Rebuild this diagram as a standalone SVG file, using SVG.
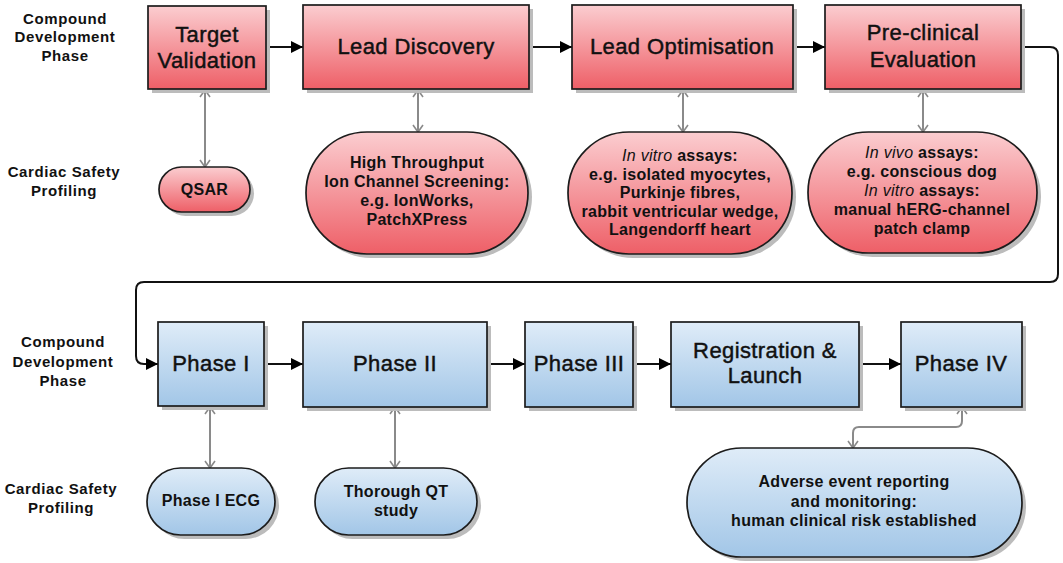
<svg xmlns="http://www.w3.org/2000/svg" width="1063" height="563" viewBox="0 0 1063 563">
<defs>
<linearGradient id="red" x1="0" y1="0" x2="0" y2="1">
<stop offset="0" stop-color="#fbcdd0"/>
<stop offset="1" stop-color="#ee5f67"/>
</linearGradient>
<linearGradient id="blue" x1="0" y1="0" x2="0" y2="1">
<stop offset="0" stop-color="#dfecf8"/>
<stop offset="1" stop-color="#a2c6e7"/>
</linearGradient>
<marker id="ah" markerUnits="userSpaceOnUse" viewBox="0 0 12 12" refX="12" refY="6" markerWidth="12" markerHeight="12" orient="auto">
<path d="M0,0 L12,6 L0,12 z" fill="#000"/>
</marker>
<marker id="gh" markerUnits="userSpaceOnUse" viewBox="-9 -7 11 14" refX="0" refY="0" markerWidth="11" markerHeight="14" orient="auto-start-reverse">
<path d="M-7,-5 L0,0 L-7,5" fill="none" stroke="#8a8a8a" stroke-width="1.6"/>
</marker>
<style>
.shadow{fill:#bcbcbc}
.rbox{fill:url(#red);stroke:#1c1c1c;stroke-width:1.7}
.bbox{fill:url(#blue);stroke:#1c1c1c;stroke-width:1.7}
.big{font-family:"Liberation Sans",Arial,sans-serif;font-size:22px;letter-spacing:0.4px;fill:#111;stroke:#111;stroke-width:0.45;text-anchor:middle}
.sm{font-family:"Liberation Sans",Arial,sans-serif;font-size:16px;font-weight:bold;letter-spacing:0.3px;fill:#111;text-anchor:middle}
.side{font-family:"Liberation Sans",Arial,sans-serif;font-size:15px;font-weight:bold;letter-spacing:0.6px;fill:#111;text-anchor:middle}
.it{font-style:italic;font-weight:normal}
.flow{fill:none;stroke:#111;stroke-width:2;marker-end:url(#ah)}
.link{fill:none;stroke:#8a8a8a;stroke-width:2;marker-start:url(#gh);marker-end:url(#gh)}
</style>
</defs>
<rect width="1063" height="563" fill="#fff"/>

<g id="labels">
<text class="side" x="65" y="23.5">Compound</text>
<text class="side" x="65" y="42">Development</text>
<text class="side" x="65" y="60.5">Phase</text>
<text class="side" x="64" y="177">Cardiac Safety</text>
<text class="side" x="64" y="196">Profiling</text>
<text class="side" x="63" y="347">Compound</text>
<text class="side" x="63" y="366.5">Development</text>
<text class="side" x="63" y="386">Phase</text>
<text class="side" x="61" y="494">Cardiac Safety</text>
<text class="side" x="61" y="513">Profiling</text>
</g>

<g id="connectors">
<path class="flow" d="M266,47 H303"/>
<path class="flow" d="M529,47 H572"/>
<path class="flow" d="M793,47 H825"/>
<path class="flow" d="M1021,47 H1050 Q1058,47 1058,55 V274 Q1058,282 1050,282 H144 Q136,282 136,290 V356 Q136,364 144,364 H158"/>
<path class="flow" d="M264,364 H303"/>
<path class="flow" d="M487,364 H525"/>
<path class="flow" d="M633,364 H671"/>
<path class="flow" d="M859,364 H901"/>
<path class="link" d="M205,90 V167"/>
<path class="link" d="M418,90 V132"/>
<path class="link" d="M683,90 V132"/>
<path class="link" d="M923,90 V132"/>
<path class="link" d="M210,407 V468"/>
<path class="link" d="M395,407 V468"/>
<path class="link" d="M962,407 V421 Q962,427 956,427 H859 Q853,427 853,433 V448"/>
</g>

<g id="target-validation">
<rect class="shadow" x="152" y="10" width="118" height="83"/>
<rect class="rbox" x="148" y="6" width="118" height="83"/>
<text class="big" x="207" y="42">Target</text>
<text class="big" x="207" y="68">Validation</text>
</g>
<g id="lead-discovery">
<rect class="shadow" x="307" y="9" width="226" height="84"/>
<rect class="rbox" x="303" y="5" width="226" height="84"/>
<text class="big" x="416" y="54">Lead Discovery</text>
</g>
<g id="lead-optimisation">
<rect class="shadow" x="576" y="9" width="221" height="84"/>
<rect class="rbox" x="572" y="5" width="221" height="84"/>
<text class="big" x="682" y="54">Lead Optimisation</text>
</g>
<g id="preclinical">
<rect class="shadow" x="829" y="9" width="196" height="84"/>
<rect class="rbox" x="825" y="5" width="196" height="84"/>
<text class="big" x="923" y="40">Pre-clinical</text>
<text class="big" x="923" y="67">Evaluation</text>
</g>

<g id="qsar">
<rect class="shadow" x="163" y="171" width="91" height="45" rx="22.5"/>
<rect class="rbox" x="159" y="167" width="91" height="45" rx="22.5"/>
<text class="sm" x="204.5" y="195">QSAR</text>
</g>
<g id="htp">
<rect class="shadow" x="310" y="136" width="222" height="122" rx="61"/>
<rect class="rbox" x="306" y="132" width="222" height="122" rx="61"/>
<text class="sm" x="417" y="168">High Throughput</text>
<text class="sm" x="417" y="187">Ion Channel Screening:</text>
<text class="sm" x="417" y="206">e.g. IonWorks,</text>
<text class="sm" x="417" y="225">PatchXPress</text>
</g>
<g id="invitro">
<rect class="shadow" x="572" y="136" width="224" height="122" rx="61"/>
<rect class="rbox" x="568" y="132" width="224" height="122" rx="61"/>
<text class="sm" x="680" y="161"><tspan class="it">In vitro</tspan> assays:</text>
<text class="sm" x="680" y="179.5">e.g. isolated myocytes,</text>
<text class="sm" x="680" y="198">Purkinje fibres,</text>
<text class="sm" x="680" y="216.5">rabbit ventricular wedge,</text>
<text class="sm" x="680" y="235">Langendorff heart</text>
</g>
<g id="invivo">
<rect class="shadow" x="812" y="136" width="229" height="121" rx="60.5"/>
<rect class="rbox" x="808" y="132" width="229" height="121" rx="60.5"/>
<text class="sm" x="922" y="158"><tspan class="it">In vivo</tspan> assays:</text>
<text class="sm" x="922" y="177">e.g. conscious dog</text>
<text class="sm" x="922" y="196"><tspan class="it">In vitro</tspan> assays:</text>
<text class="sm" x="922" y="215">manual hERG-channel</text>
<text class="sm" x="922" y="234">patch clamp</text>
</g>

<g id="phase1">
<rect class="shadow" x="162" y="326" width="106" height="84"/>
<rect class="bbox" x="158" y="322" width="106" height="84"/>
<text class="big" x="211" y="371">Phase I</text>
</g>
<g id="phase2">
<rect class="shadow" x="307" y="326" width="184" height="85"/>
<rect class="bbox" x="303" y="322" width="184" height="85"/>
<text class="big" x="395" y="371">Phase II</text>
</g>
<g id="phase3">
<rect class="shadow" x="529" y="326" width="108" height="85"/>
<rect class="bbox" x="525" y="322" width="108" height="85"/>
<text class="big" x="579" y="371">Phase III</text>
</g>
<g id="registration">
<rect class="shadow" x="675" y="326" width="188" height="85"/>
<rect class="bbox" x="671" y="322" width="188" height="85"/>
<text class="big" x="765" y="358">Registration &amp;</text>
<text class="big" x="765" y="383">Launch</text>
</g>
<g id="phase4">
<rect class="shadow" x="905" y="326" width="121" height="85"/>
<rect class="bbox" x="901" y="322" width="121" height="85"/>
<text class="big" x="961" y="371">Phase IV</text>
</g>

<g id="ecg">
<rect class="shadow" x="151" y="472" width="128" height="67" rx="33.5"/>
<rect class="bbox" x="147" y="468" width="128" height="67" rx="33.5"/>
<text class="sm" x="211" y="506">Phase I ECG</text>
</g>
<g id="tqt">
<rect class="shadow" x="319" y="472" width="162" height="67" rx="33.5"/>
<rect class="bbox" x="315" y="468" width="162" height="67" rx="33.5"/>
<text class="sm" x="396" y="497">Thorough QT</text>
<text class="sm" x="396" y="516">study</text>
</g>
<g id="adverse">
<rect class="shadow" x="691" y="452" width="335" height="109" rx="54.5"/>
<rect class="bbox" x="687" y="448" width="335" height="109" rx="54.5"/>
<text class="sm" x="854" y="487">Adverse event reporting</text>
<text class="sm" x="854" y="507">and monitoring:</text>
<text class="sm" x="854" y="526">human clinical risk established</text>
</g>
</svg>
